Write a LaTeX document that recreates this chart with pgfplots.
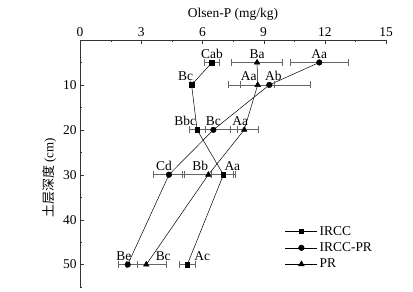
\documentclass[border=0pt]{standalone}
\usepackage{fontspec}
\setmainfont{Liberation Serif}
\newfontfamily\cjk{Noto Sans CJK SC}
\usepackage{pgfplots}
\usepackage{pgfplotstable}
\pgfplotsset{compat=1.18}
\pgfplotstableread{
x y ex lab dx
6.47 5 0.38 Cab 0
5.47 10 0.08 Bc -6
5.74 20 0.4 Bbc -12
7.03 30 0.6 Aa 9
5.26 50 0.37 Ac 15
}\ircc
\pgfplotstableread{
x y ex lab dx
11.73 5 1.4 Aa 0
9.28 10 2.0 Ab 4
6.54 20 1.18 Bc 0
4.36 30 0.75 Cd -5
2.34 50 0.47 Be -4
}\irccpr
\pgfplotstableread{
x y ex lab dx
8.68 5 1.25 Ba 0
8.71 10 0.83 Aa -9
8.05 20 0.7 Aa -4
6.29 30 1.25 Bb -8
3.25 50 0.97 Bc 17
}\pr
\begin{document}
\begin{tikzpicture}[font=\fontsize{13.5}{16}\selectfont]
\path[use as bounding box] (0,0) rectangle (413bp,-292bp);
\begin{axis}[
 scale only axis, width=306bp, height=247bp,
 at={(80bp,-287bp)}, anchor=south west,
 xmin=0, xmax=15, ymin=0, ymax=55, y dir=reverse,
 axis x line=top, axis y line=left,
 axis line style={-, black!80},
 tick align=inside,
 major tick length=4bp, minor tick length=2bp,
 xtick={0,3,...,15}, minor x tick num=1,
 ytick={10,20,...,50}, minor ytick={5,15,...,55},
 tick style={black!80},
 /pgf/number format/assume math mode=true,
 xlabel={Olsen-P (mg/kg)},
 ylabel={{\cjk 土层深度} (cm)},
 ylabel style={font=\fontsize{13}{15}\selectfont, at={(ticklabel cs:0.442)}},
 legend style={at={(0.66,0.263)}, anchor=north west, draw=none, fill=none, row sep=2bp, font=\fontsize{13.5}{16}\selectfont},
 legend cell align=left,
 legend image code/.code={\draw[mark repeat=2,mark phase=2] plot coordinates {(0bp,0bp) (16bp,0bp) (32bp,0bp)};},
 nodes near coords,
 point meta=explicit symbolic,
 visualization depends on={\thisrow{dx} \as \dx},
 every node near coord/.append style={anchor=south, xshift=\dx, yshift=2.5bp, inner sep=1.5pt, font=\fontsize{13.5}{16}\selectfont, black},
 error bars/x dir=both, error bars/x explicit,
 error bars/error bar style={black!60, line width=0.7pt},
 error bars/error mark options={rotate=90, mark size=3.5bp, black!60, line width=0.7pt},
]
\addplot[black, line width=0.5pt, mark=square*, mark size=2.3bp] table[x=x, y=y, x error=ex, meta=lab] {\ircc};
\addlegendentry{IRCC}
\addplot[black, line width=0.5pt, mark=*, mark size=2.8bp] table[x=x, y=y, x error=ex, meta=lab] {\irccpr};
\addlegendentry{IRCC-PR}
\addplot[black, line width=0.5pt, mark=triangle*, mark size=3.2bp] table[x=x, y=y, x error=ex, meta=lab] {\pr};
\addlegendentry{PR}
\end{axis}
\end{tikzpicture}
\end{document}
